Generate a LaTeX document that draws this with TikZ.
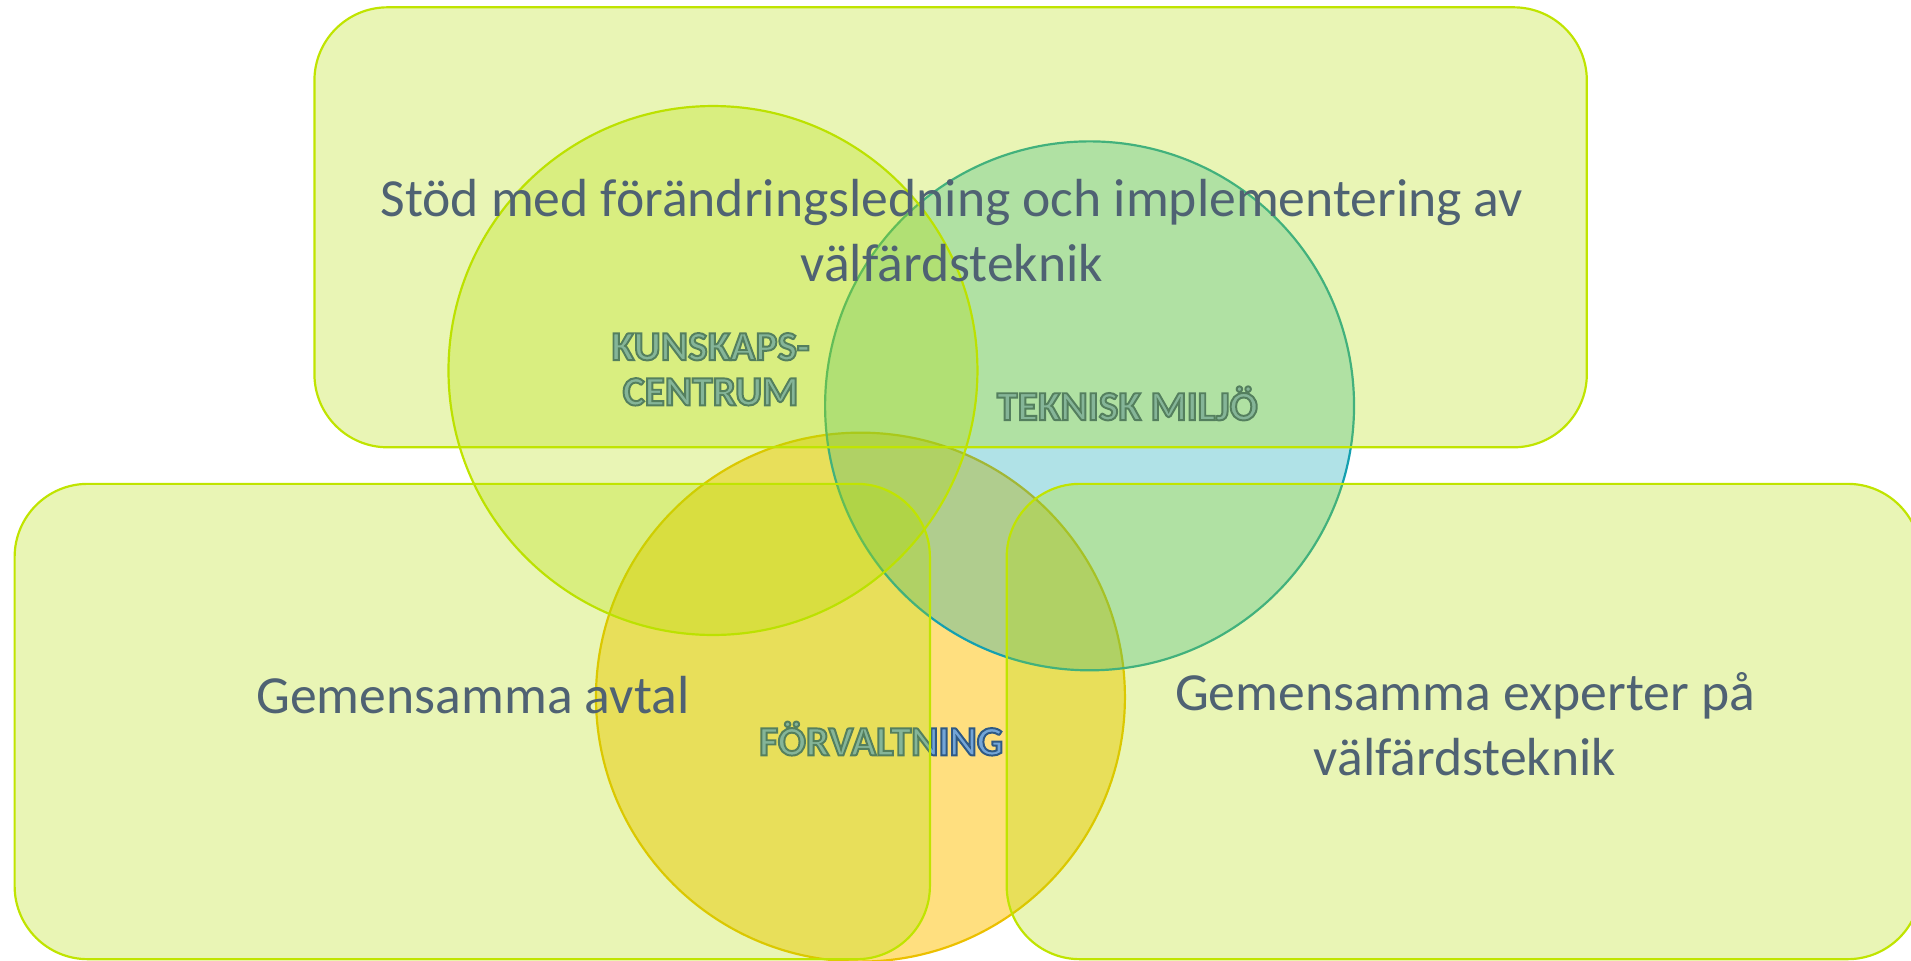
\documentclass[tikz,border=0pt]{standalone}
\usepackage{fontspec}
\setmainfont{Carlito}
\definecolor{yg}{RGB}{179,221,0}
\definecolor{ygline}{RGB}{192,228,0}
\definecolor{goldf}{RGB}{255,192,0}
\definecolor{goldline}{RGB}{236,192,0}
\definecolor{tealf}{RGB}{0,163,176}
\definecolor{tealline}{RGB}{20,160,176}
\definecolor{txtc}{RGB}{79,98,115}
\definecolor{lblfill}{RGB}{115,165,215}
\newcommand{\outl}[1]{\special{pdf:literal direct 2 Tr 1.6 w 0.18 0.35 0.52 RG}#1\special{pdf:literal direct 0 Tr}}
\tikzset{
  bigcirc/.style={circle, minimum size=434pt, inner sep=0pt, line width=1.8pt},
  boxshape/.style={rectangle, rounded corners=60pt, inner sep=0pt, fill=yg, fill opacity=0.29, draw=ygline, line width=1.8pt},
  lbl/.style={text=lblfill, align=center, font=\fontsize{34}{37}\selectfont\bfseries},
  maintxt/.style={text=txtc, align=center, font=\fontsize{44}{53}\selectfont}
}
\begin{document}
\begin{tikzpicture}[x=1pt, y=-1pt]
\useasboundingbox (0,0) rectangle (1568,787.7);
% circles
\node[bigcirc, fill=goldf, fill opacity=0.5, draw=goldline] (fv) at (706,572) {};
\node[bigcirc, fill=tealf, fill opacity=0.31, draw=tealline] (tm) at (894,333) {};
\node[bigcirc, fill=yg, fill opacity=0.29, draw=ygline] (kc) at (585,304) {};
% labels
\node[lbl] (kcl) at (583,303) {\outl{KUNSKAPS-\\CENTRUM}};
\node[lbl] (tml) at (925,331) {\outl{TEKNISK MILJÖ}};
\node[lbl] (fvl) at (723,606) {\outl{FÖRVALTNING}};
% boxes
\node[boxshape, minimum width=1044pt, minimum height=361pt] (top) at (780,186.5) {};
\node[boxshape, minimum width=751pt, minimum height=390pt] (left) at (387.5,592) {};
\node[boxshape, minimum width=750pt, minimum height=390pt] (right) at (1201,592) {};
% texts
\node[maintxt] (topt) at (781,189) {Stöd med förändringsledning och implementering av\\välfärdsteknik};
\node[maintxt] (leftt) at (388,570) {Gemensamma avtal};
\node[maintxt] (rightt) at (1202,594) {Gemensamma experter på\\välfärdsteknik};
\end{tikzpicture}
\end{document}
